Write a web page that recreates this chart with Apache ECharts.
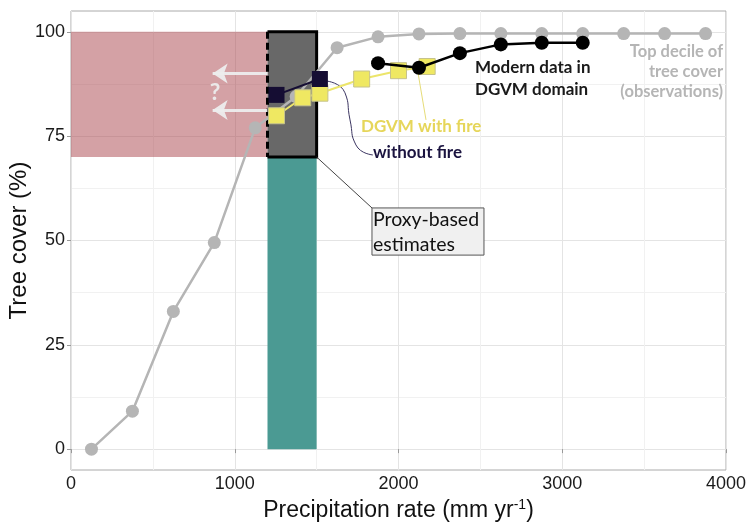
<!DOCTYPE html>
<html>
<head>
<meta charset="utf-8">
<script src="https://cdn.jsdelivr.net/npm/echarts@6/dist/echarts.min.js"></script>
<style>
  html, body { margin: 0; padding: 0; background: #fff; }
  #chart { width: 748px; height: 522px; }
</style>
</head>
<body>
<div id="chart"></div>
<script>
// observations: top decile of tree cover per precipitation bin
const obsPrecip = [125, 375, 625, 875, 1125, 1375, 1625, 1875, 2125, 2375, 2625, 2875, 3125, 3375, 3625, 3875]
const obsTree = [0, 9.1, 33, 49.5, 77, 84.5, 96.2, 98.8, 99.5, 99.6, 99.6, 99.6, 99.6, 99.6, 99.6, 99.6]

// modern data in DGVM domain
const modernPrecip = [1875, 2125, 2375, 2625, 2875, 3125]
const modernTree = [92.5, 91.4, 94.9, 97.0, 97.4, 97.4]

// DGVM runs
const firePrecip = [1255, 1415, 1520, 1775, 2000, 2175]
const fireTree = [79.9, 84.2, 85.3, 88.7, 90.7, 91.7]
const noFirePrecip = [1255, 1520]
const noFireTree = [84.9, 88.7]

// shaded boxes: [xMin, xMax, yMin, yMax]
const pastBox = [0, 1200, 70, 100]
const proxyBox = [1200, 1500, 70, 100]
const proxyBar = [1200, 1500, 0, 70]

// "?" arrows pointing to lower precipitation
const arrowLevels = [90, 81.3]
const arrowFrom = 1200
const arrowTo = 865

const xTicks = [0, 4000, 1000]
const yTicks = [0, 100, 25]

const zip = (xs, ys) => xs.map((x, i) => [x, ys[i]])

const chart = echarts.init(document.getElementById('chart'))

const tickFont = { fontSize: 18, color: '#1a1a1a', fontFamily: 'Liberation Sans' }
const gridColor = '#e4e4e4'
const minorColor = '#f1f1f1'

const boxFills = ['rgba(169,67,75,0.5)', '#686868', '#4b9a93']

const option = {
  animation: false,
  backgroundColor: '#fff',
  grid: [
    { left: 71, right: 22, top: 11, bottom: 52, containLabel: false, outerBoundsMode: 'none', show: true, borderColor: '#aaaaaa', borderWidth: 1, backgroundColor: 'transparent' },
    { left: 71, right: 22, top: 32, bottom: 73, containLabel: false, outerBoundsMode: 'none' },
  ],
  xAxis: [
    {
      gridIndex: 0,
      type: 'value',
      min: xTicks[0],
      max: xTicks[1],
      interval: xTicks[2],
      axisLine: { show: false },
      axisTick: { show: true, length: 4, lineStyle: { color: '#999' } },
      axisLabel: { ...tickFont, margin: 5, formatter: (v) => String(v) },
      splitLine: { lineStyle: { color: gridColor } },
      minorTick: { show: false, splitNumber: 2 },
      minorSplitLine: { show: true, lineStyle: { color: minorColor } },
      name: 'Precipitation rate (mm yr{sup|-1})',
      nameLocation: 'middle',
      nameGap: 27,
      nameTextStyle: {
        fontSize: 23,
        color: '#111',
        fontFamily: 'Liberation Sans',
        rich: { sup: { fontSize: 14, color: '#111', fontFamily: 'Liberation Sans', padding: [0, 0, 11, 0] } },
      },
    },
    { gridIndex: 1, type: 'value', min: xTicks[0], max: xTicks[1], show: false },
  ],
  yAxis: [
    { gridIndex: 0, type: 'value', min: -5, max: 105, show: false },
    {
      gridIndex: 1,
      type: 'value',
      min: yTicks[0],
      max: yTicks[1],
      interval: yTicks[2],
      axisLine: { show: false },
      axisTick: { show: true, length: 4, lineStyle: { color: '#999' } },
      axisLabel: { ...tickFont, margin: 6 },
      splitLine: { lineStyle: { color: gridColor } },
      minorTick: { show: false, splitNumber: 2 },
      minorSplitLine: { show: true, lineStyle: { color: minorColor } },
      name: 'Tree cover (%)',
      nameLocation: 'middle',
      nameMoveOverlap: false,
      nameGap: 40,
      nameTextStyle: { fontSize: 24, color: '#111', fontFamily: 'Liberation Sans' },
    },
  ],
  series: [
    {
      type: 'custom',
      name: 'boxes',
      xAxisIndex: 0,
      yAxisIndex: 0,
      z: 1,
      silent: true,
      data: [pastBox, proxyBox, proxyBar],
      renderItem: (params, api) => {
        const tl = api.coord([api.value(0), api.value(3)])
        const br = api.coord([api.value(1), api.value(2)])
        return {
          type: 'rect',
          shape: { x: tl[0], y: tl[1], width: br[0] - tl[0], height: br[1] - tl[1] },
          style: { fill: boxFills[params.dataIndex] },
        }
      },
    },
    {
      type: 'custom',
      name: 'frame',
      xAxisIndex: 0,
      yAxisIndex: 0,
      z: 2,
      silent: true,
      data: [proxyBox],
      renderItem: (params, api) => {
        const tl = api.coord([api.value(0), api.value(3)])
        const br = api.coord([api.value(1), api.value(2)])
        return {
          type: 'group',
          children: [
            {
              type: 'polyline',
              shape: { points: [[tl[0], tl[1]], [br[0], tl[1]], [br[0], br[1]], [tl[0], br[1]]] },
              style: { stroke: '#000', lineWidth: 3, fill: null },
            },
            {
              type: 'line',
              shape: { x1: tl[0], y1: tl[1], x2: tl[0], y2: br[1] },
              style: { stroke: '#000', lineWidth: 3, lineDash: [7, 4] },
            },
          ],
        }
      },
    },
    {
      type: 'lines',
      name: 'arrows',
      coordinateSystem: 'cartesian2d',
      xAxisIndex: 0,
      yAxisIndex: 0,
      z: 3,
      silent: true,
      symbol: ['none', 'arrow'],
      symbolSize: [0, 15],
      lineStyle: { color: '#ededed', width: 3, opacity: 0.95, curveness: 0 },
      data: arrowLevels.map((y) => ({ coords: [[arrowFrom, y], [arrowTo, y]] })),
    },
    {
      type: 'line',
      name: 'Top decile of tree cover (observations)',
      xAxisIndex: 0,
      yAxisIndex: 0,
      z: 4,
      data: zip(obsPrecip, obsTree),
      symbol: 'circle',
      symbolSize: 13,
      itemStyle: { color: '#b5b5b5' },
      lineStyle: { color: '#b5b5b5', width: 2.5 },
    },
    {
      type: 'line',
      name: 'DGVM with fire',
      xAxisIndex: 0,
      yAxisIndex: 0,
      z: 5,
      data: zip(firePrecip, fireTree),
      symbol: 'rect',
      symbolSize: 16,
      itemStyle: { color: '#efe862', borderColor: '#c6c28c', borderWidth: 1 },
      lineStyle: { color: '#ece56a', width: 2 },
    },
    {
      type: 'line',
      name: 'without fire',
      xAxisIndex: 0,
      yAxisIndex: 0,
      z: 6,
      data: zip(noFirePrecip, noFireTree),
      symbol: 'rect',
      symbolSize: 16,
      itemStyle: { color: '#150d33' },
      lineStyle: { color: '#150d33', width: 2 },
    },
    {
      type: 'line',
      name: 'Modern data in DGVM domain',
      xAxisIndex: 0,
      yAxisIndex: 0,
      z: 7,
      data: zip(modernPrecip, modernTree),
      symbol: 'circle',
      symbolSize: 14,
      itemStyle: { color: '#000' },
      lineStyle: { color: '#000', width: 2.5 },
    },
    // leader lines of the annotations
    {
      type: 'line',
      xAxisIndex: 0,
      yAxisIndex: 0,
      z: 3,
      silent: true,
      showSymbol: false,
      data: [[1500, 70], [1838, 57.8]],
      lineStyle: { color: '#444', width: 1 },
    },
    {
      type: 'line',
      xAxisIndex: 0,
      yAxisIndex: 0,
      z: 3,
      silent: true,
      showSymbol: false,
      data: [[2168, 78.9], [2119, 90.2]],
      lineStyle: { color: '#e6dc78', width: 1 },
    },
    {
      type: 'line',
      xAxisIndex: 0,
      yAxisIndex: 0,
      z: 3,
      silent: true,
      showSymbol: false,
      smooth: 0.6,
      data: [[1563, 88.2], [1673, 85.4], [1704, 78.9], [1740, 72.9], [1844, 70.5]],
      lineStyle: { color: '#3c3662', width: 1 },
    },
  ],
}

chart.setOption(option)

// text annotations, anchored in data coordinates
const px = (p) => chart.convertToPixel({ xAxisIndex: 0, yAxisIndex: 0 }, p)
const annoFont = 'Lato'
const notes = [
  { text: 'Top decile of\ntree cover\n(observations)', at: [3982, 97.6], align: 'right', color: '#b5b5b5', size: 16.5, lh: 20, weight: 'bold' },
  { text: 'Modern data in\nDGVM domain', at: [2467, 94.2], align: 'left', color: '#1a1a1a', size: 17, lh: 22, weight: 'bold' },
  { text: 'DGVM with fire', at: [1771, 79.6], align: 'left', color: '#e6d65a', size: 17, lh: 20, weight: 'bold' },
  { text: 'without fire', at: [1844, 73.6], align: 'left', color: '#1b1440', size: 17, lh: 20, weight: 'bold' },
]

const box0 = px([1838, 57.8])
const box1 = px([2522, 46.5])
const q = px([879, 85.4])

const graphic = notes.map((n) => {
  const p = px(n.at)
  return {
    type: 'text',
    x: p[0],
    y: p[1],
    z: 20,
    style: {
      text: n.text,
      fill: n.color,
      font: n.weight + ' ' + n.size + 'px ' + annoFont,
      lineHeight: n.lh,
      align: n.align,
      verticalAlign: 'top',
    },
  }
})
graphic.push({
  type: 'text',
  x: q[0],
  y: q[1],
  z: 20,
  style: { text: '?', fill: '#ececec', font: 'bold 23px ' + annoFont, align: 'center', verticalAlign: 'middle', opacity: 0.95 },
})
graphic.push({
  type: 'rect',
  z: 20,
  shape: { x: box0[0], y: box0[1], width: box1[0] - box0[0], height: box1[1] - box0[1] },
  style: { fill: '#f0f0f0', stroke: '#555', lineWidth: 1 },
})
graphic.push({
  type: 'text',
  x: box0[0] + 1,
  y: box0[1] - 1,
  z: 21,
  style: { text: 'Proxy-based\nestimates', fill: '#111', font: '19.5px ' + annoFont, lineHeight: 25, align: 'left', verticalAlign: 'top' },
})

chart.setOption({ graphic })
</script>
</body>
</html>
